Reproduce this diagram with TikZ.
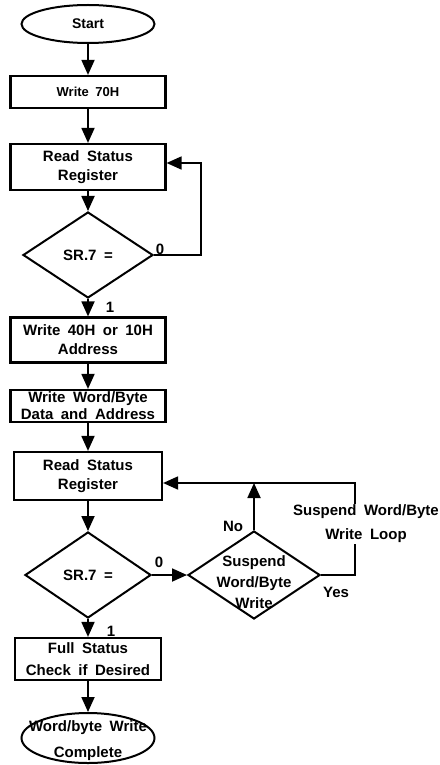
\documentclass[tikz,border=0pt]{standalone}
\usepackage{fontspec}
\setmainfont{Liberation Sans}[WordSpace=1.8]
\usepackage{tikz}
\usetikzlibrary{shapes, arrows.meta, positioning}
\tikzstyle{block}=[draw,fill=white,rectangle,line width=2.2pt,align=center,inner sep=1pt,minimum width=155pt]
\tikzstyle{decision}=[draw,diamond,line width=2pt,inner sep=0pt,minimum width=130pt,minimum height=86pt]
\tikzstyle{terminal}=[draw,ellipse,line width=2pt,inner sep=0pt,minimum width=133pt]
\tikzstyle{every node}=[font=\bfseries\fontsize{15}{19}\selectfont]
\newcommand{\smalltext}{\fontsize{13}{15}\selectfont}

\begin{document}
\begin{tikzpicture}[>={Triangle[length=15pt,width=13pt]},line width=1.8pt]
    \useasboundingbox (0,0) rectangle (439pt,-765pt);
    \node[terminal, minimum height=38pt] (start) at (88pt,-24pt) {\fontsize{14}{16}\selectfont Start};
    \node[block, below of=start, node distance=68pt, minimum height=32pt] (w70) {\smalltext Write 70H};
    \node[block, below of=w70, node distance=75pt, minimum height=46pt] (rs1) {Read Status\\Register};
    \node[decision, below of=rs1, node distance=88pt] (d1) {SR.7 =};
    \node[block, below of=d1, node distance=85pt, minimum height=45pt] (w40) {Write 40H or 10H\\Address};
    \node[block, below of=w40, node distance=66pt, minimum height=32pt,
          font=\bfseries\fontsize{15}{17}\selectfont] (wdata) {Write Word/Byte\\Data and Address};
    \node[block, below of=wdata, node distance=70pt, minimum height=48pt, minimum width=148pt] (rs2) {Read Status\\Register};
    \node[decision, below of=rs2, node distance=99pt, minimum width=126pt] (d2) {SR.7 =};
    \node[decision, right of=d2, node distance=166pt, minimum width=132pt, minimum height=88pt] (sus) {};
    \node[align=center, font=\bfseries\fontsize{15}{21}\selectfont] (sustxt) at ([yshift=-7pt]sus.center) {Suspend\\Word/Byte\\Write};
    \node[block, below of=d2, node distance=84pt, minimum height=42pt, minimum width=146pt,
          font=\bfseries\fontsize{15}{22}\selectfont] (fs) {Full Status\\Check if Desired};
    \node[terminal, below of=fs, node distance=79pt, minimum height=50pt] (done) {};
    \node[align=center, font=\bfseries\fontsize{15}{26}\selectfont] (donetxt) at ([yshift=-3pt]done.center) {Word/byte Write\\Complete};
    \node (z1) at ([xshift=6pt,yshift=6pt]d1.east) {0};
    \node (o1) at ([xshift=22pt,yshift=-8pt]d1.south) {1};
    \node (z2) at ([xshift=7pt,yshift=13pt]d2.east) {0};
    \node (o2) at ([xshift=23pt,yshift=-12pt]d2.south) {1};
    \node (no) at ([xshift=-21pt,yshift=4pt]sus.north) {No};
    \node (yes) at ([xshift=15pt,yshift=-17pt]sus.east) {Yes};
    \coordinate (ret) at ([yshift=-7pt]rs2.east);
    \draw[->] (start) -- (w70);
    \draw[->] (w70) -- (rs1);
    \draw[->] (rs1) -- (d1);
    \draw[->] (d1.east) -- ++(47pt,0) |- ([yshift=4pt]rs1.east);
    \draw[->] (d1) -- (w40);
    \draw[->] (w40) -- (wdata);
    \draw[->] (wdata) -- (rs2);
    \draw[->] (rs2) -- (d2);
    \draw[->] (d2) -- (sus);
    \draw[->] (sus.north) -- (sus.north |- ret);
    \draw[->] (sus.east) -- ++(34pt,0) |- (ret);
    \draw[->] (d2) -- (fs);
    \draw[->] (fs) -- (done);
    \node[fill=white, inner sep=1pt, align=center, font=\bfseries\fontsize{15}{24}\selectfont] (loop)
        at ([xshift=112pt,yshift=51pt]sus.center) {Suspend Word/Byte\\Write Loop};
\end{tikzpicture}
\end{document}
